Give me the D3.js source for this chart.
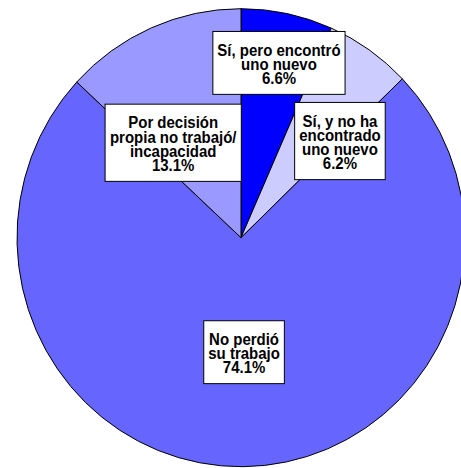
<!DOCTYPE html>
<meta charset="utf-8">
<style>
	body { margin: 0; background: #fff; }
	svg { display: block; }
	.lbl text { font-family: "Liberation Sans", Arial, sans-serif; font-weight: bold; font-size: 15px; fill: #000; }
</style>
<body></body>
<script src="https://d3js.org/d3.v7.min.js"></script>
<script>

	// data
	var categories = [
		"Sí, pero encontró\nuno nuevo",
		"Sí, y no ha\nencontrado\nuno nuevo",
		"No perdió\nsu trabajo",
		"Por decisión\npropia no trabajó/\nincapacidad"
	];
	var values = [6.6, 6.2, 74.1, 13.1];
	var colors = ["#0000ff", "#ccccff", "#6666ff", "#9999ff"];

	// layout
	var width = 461, height = 468;
	var cx = 241, cy = 237.7;
	var radius = 229;
	var sx = 224 / 229;   // pie is a little squashed sideways
	var ty = 1.05;        // glyphs a touch taller than plain Arial
	var lineH = 14.3;
	var labelPos = [
		{k: 0.78, dx: 2, dy: 0},
		{k: 0.6, dx: 22, dy: 16},
		{k: 0.5, dx: 2, dy: 0},
		{k: 0.5, dx: -23, dy: 10}
	];

	var svg = d3.select("body").append("svg")
		.attr("width", width)
		.attr("height", height);

	var pie = d3.pie().sort(null).value(function(d) { return d; });
	var arcs = pie(values);

	var arc = d3.arc().innerRadius(0).outerRadius(radius);

	var g = svg.append("g")
		.attr("transform", "translate(" + cx + "," + cy + ") scale(" + sx + ",1)");

	g.selectAll("path")
		.data(arcs)
		.enter()
		.append("path")
		.attr("d", arc)
		.attr("fill", function(d, i) { return colors[i]; })
		.attr("stroke", "#000")
		.attr("stroke-width", 1)
		.attr("vector-effect", "non-scaling-stroke");

	var labels = svg.selectAll("g.lbl")
		.data(arcs)
		.enter()
		.append("g")
		.attr("class", "lbl")
		.attr("transform", function(d, i) {
			var p = labelPos[i];
			var c = d3.arc().innerRadius(radius * p.k).outerRadius(radius * p.k).centroid(d);
			return "translate(" + (cx + c[0] * sx + p.dx) + "," + (cy + c[1] + p.dy) + ")";
		});

	labels.each(function(d, i) {
		var sel = d3.select(this);
		var lines = categories[i].split("\n").concat([values[i].toFixed(1) + "%"]);
		var n = lines.length;
		var rect = sel.append("rect");
		var txt = sel.append("text")
			.attr("text-anchor", "middle")
			.attr("transform", "scale(1," + ty + ")");
		lines.forEach(function(l, j) {
			txt.append("tspan")
				.attr("x", 0)
				.attr("y", ((j - (n - 1) / 2) * lineH + 7) / ty)
				.text(l);
		});
		var w = txt.node().getBBox().width + 9;
		var h = n * lineH + 20;
		rect.attr("x", -w / 2).attr("y", -h / 2)
			.attr("width", w).attr("height", h)
			.attr("fill", "#fff")
			.attr("stroke", "#000")
			.attr("stroke-width", 1);
	});

</script>
